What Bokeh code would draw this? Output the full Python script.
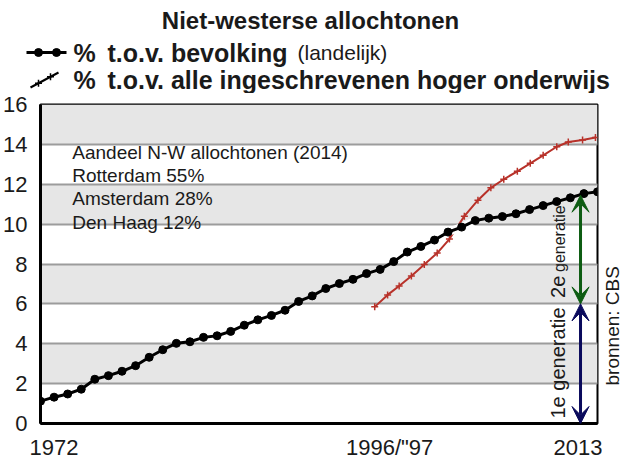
from math import pi
from bokeh.plotting import figure
from bokeh.layouts import column, row
from bokeh.models import Range1d, FixedTicker, Label, Arrow, VeeHead
from bokeh.embed import file_html
from bokeh.resources import INLINE

FONT = "Liberation Sans"
BLACK = "#000000"
RED = "#b8322a"
GREEN = "#0d5c12"
NAVY = "#0a0a5c"
TXT = "#1a1a1a"

# ---------------- data ----------------
title_text = "Niet-westerse allochtonen"
legend_pct = "%"
legend_black = "t.o.v. bevolking"
legend_black_note = "(landelijk)"
legend_red = "t.o.v. alle ingeschrevenen hoger onderwijs"

years = list(range(1972, 2014))
bevolking = [1.12, 1.32, 1.48, 1.72, 2.22, 2.40, 2.62, 2.90, 3.32, 3.70,
             4.02, 4.10, 4.32, 4.40, 4.62, 4.93, 5.20, 5.42, 5.68, 6.12,
             6.40, 6.77, 7.02, 7.23, 7.52, 7.73, 8.12, 8.60, 8.88, 9.20,
             9.60, 9.85, 10.18, 10.30, 10.38, 10.52, 10.73, 10.93, 11.13, 11.32,
             11.53, 11.62]

ho_years = [1996.6, 1997.55, 1998.4, 1999.3, 2000.25, 2001.2, 2002.1, 2003.2,
            2004.2, 2005.15, 2006.1, 2007.1, 2008.05, 2009.0, 2010.0, 2010.85,
            2011.9, 2012.85]
ho_share = [5.85, 6.45, 6.90, 7.40, 7.98, 8.55, 9.25, 10.40,
            11.20, 11.82, 12.25, 12.65, 13.05, 13.45, 13.88, 14.12,
            14.22, 14.35]

y_ticks = [0, 2, 4, 6, 8, 10, 12, 14, 16]
x_tick_labels = ["1972", '1996/"97', "2013"]
x_tick_pos = [1973.0, 1997.7, 2011.75]

note_lines = ["Aandeel N-W allochtonen (2014)", "Rotterdam 55%",
              "Amsterdam 28%", "Den Haag 12%"]

gen_split = 6.0          # boundary 1e / 2e generatie
gen_top = 11.45
gen1_label = "1e generatie"
gen2_label_a = "2e"
gen2_label_b = "generatie"
source_text = "bronnen: CBS"

# ---------------- header (title + legend) ----------------
W = 621
HH = 93
head = figure(width=W, height=HH, x_range=Range1d(0, W), y_range=Range1d(0, HH),
              output_backend="svg", toolbar_location=None,
              x_axis_location=None, y_axis_location=None,
              min_border=0, outline_line_color=None)
head.grid.visible = False
head.background_fill_color = "white"
head.border_fill_color = "white"


def hy(page_y):          # header: page y (from top) -> header data y
    return HH - page_y


head.add_layout(Label(x=310, y=hy(20), text=title_text, text_font=FONT,
                      text_font_size="24px", text_font_style="bold",
                      text_align="center", text_baseline="middle",
                      text_color=TXT))
for ty, label_main in ((hy(52), legend_black), (hy(79), legend_red)):
    head.add_layout(Label(x=73, y=ty, text=legend_pct, text_font=FONT,
                          text_font_size="25px", text_font_style="bold",
                          text_baseline="middle", text_color=TXT))
    head.add_layout(Label(x=107, y=ty, text=label_main, text_font=FONT,
                          text_font_size="25px", text_font_style="bold",
                          text_baseline="middle", text_color=TXT))
head.add_layout(Label(x=297, y=hy(52), text=legend_black_note, text_font=FONT,
                      text_font_size="21px", text_baseline="middle",
                      text_color=TXT))

# legend sample glyphs (drawn in black, as in the original)
head.line([26, 66], [hy(52), hy(52)], line_color=BLACK, line_width=3)
head.scatter([38, 56], [hy(52), hy(52)], marker="circle", size=8, color=BLACK)
head.line([30, 58], [hy(87), hy(72)], line_color=BLACK, line_width=2)
head.scatter([38, 50], [hy(82.7), hy(76.3)], marker="cross", size=7, line_color=BLACK,
             line_width=1.5)

# ---------------- main chart ----------------
MW = 602
MH = 462 - HH
p = figure(width=MW, height=MH, x_range=Range1d(1972, 2013), y_range=Range1d(0, 16),
           output_backend="svg", toolbar_location=None,
           min_border_left=37, min_border_right=MW - 597,
           min_border_top=104 - HH, min_border_bottom=MH - (423 - HH))
p.background_fill_color = "white"
p.border_fill_color = "white"
p.outline_line_color = BLACK
p.outline_line_width = 2

p.yaxis.ticker = FixedTicker(ticks=y_ticks)
p.yaxis.major_label_text_font = FONT
p.yaxis.major_label_text_font_size = "22px"
p.yaxis.major_label_text_color = TXT
p.yaxis.major_tick_line_color = None
p.yaxis.minor_tick_line_color = None
p.yaxis.axis_line_width = 3
p.yaxis.axis_line_color = BLACK
p.yaxis.major_label_standoff = 7

p.xaxis.ticker = FixedTicker(ticks=x_tick_pos)
p.xaxis.major_label_overrides = dict(zip(x_tick_pos, x_tick_labels))
p.xaxis.major_label_text_font = FONT
p.xaxis.major_label_text_font_size = "22px"
p.xaxis.major_label_text_color = TXT
p.xaxis.major_tick_line_color = None
p.xaxis.minor_tick_line_color = None
p.xaxis.axis_line_width = 3
p.xaxis.axis_line_color = BLACK
p.xaxis.major_label_standoff = 5

p.xgrid.visible = False
p.ygrid.ticker = p.yaxis[0].ticker
p.ygrid.grid_line_color = "#9c9c9c"
p.ygrid.grid_line_width = 2
p.ygrid.band_fill_color = "#e6e6e6"
p.ygrid.band_fill_alpha = 1

# higher education series
p.line(ho_years, ho_share, line_color=RED, line_width=2)
p.scatter(ho_years, ho_share, marker="cross", size=7, line_color=RED, line_width=1.5)
# white halo where the population line crosses the red line
p.line(years[29:33], bevolking[29:33], line_color="white", line_width=8)
# population series
p.line(years, bevolking, line_color=BLACK, line_width=3)
p.scatter(years, bevolking, marker="circle", size=8, color=BLACK)

for i, t in enumerate(note_lines):
    p.add_layout(Label(x=1974.56, y=13.6, x_offset=-3, y_offset=-23.3 * i, text=t,
                       text_font=FONT, text_font_size="19px",
                       text_baseline="middle", text_color=TXT))

ARROW_X = 2011.75
p.add_layout(Arrow(start=VeeHead(size=17, fill_color=GREEN, line_color=GREEN),
                   end=VeeHead(size=17, fill_color=GREEN, line_color=GREEN),
                   x_start=ARROW_X, y_start=gen_split, x_end=ARROW_X, y_end=gen_top,
                   line_color=GREEN, line_width=3))
p.add_layout(Arrow(start=VeeHead(size=17, fill_color=NAVY, line_color=NAVY),
                   end=VeeHead(size=17, fill_color=NAVY, line_color=NAVY),
                   x_start=ARROW_X, y_start=0, x_end=ARROW_X, y_end=gen_split,
                   line_color=NAVY, line_width=3))

p.add_layout(Label(x=ARROW_X, y=0.25, x_offset=-23, angle=pi / 2, text=gen1_label,
                   text_font=FONT, text_font_size="20px", text_baseline="middle",
                   text_color=TXT))
p.add_layout(Label(x=ARROW_X, y=6.3, x_offset=-23, angle=pi / 2, text=gen2_label_a,
                   text_font=FONT, text_font_size="20px", text_baseline="middle",
                   text_color=TXT))
p.add_layout(Label(x=ARROW_X, y=7.6, x_offset=-21, angle=pi / 2, text=gen2_label_b,
                   text_font=FONT, text_font_size="16px", text_baseline="middle",
                   text_color=TXT))

# ---------------- source strip on the right ----------------
SW = W - MW
side = figure(width=SW, height=MH, x_range=Range1d(0, SW), y_range=Range1d(0, MH),
              output_backend="svg", toolbar_location=None,
              x_axis_location=None, y_axis_location=None,
              min_border=0, outline_line_color=None)
side.grid.visible = False
side.background_fill_color = "white"
side.border_fill_color = "white"
side.add_layout(Label(x=SW / 2, y=MH - (418 - HH), angle=pi / 2, text=source_text,
                      text_font=FONT, text_font_size="19px", text_baseline="middle",
                      text_color=TXT))

layout = column(head, row(p, side, spacing=0), spacing=0)
open("out.html", "w").write(file_html(layout, INLINE))
